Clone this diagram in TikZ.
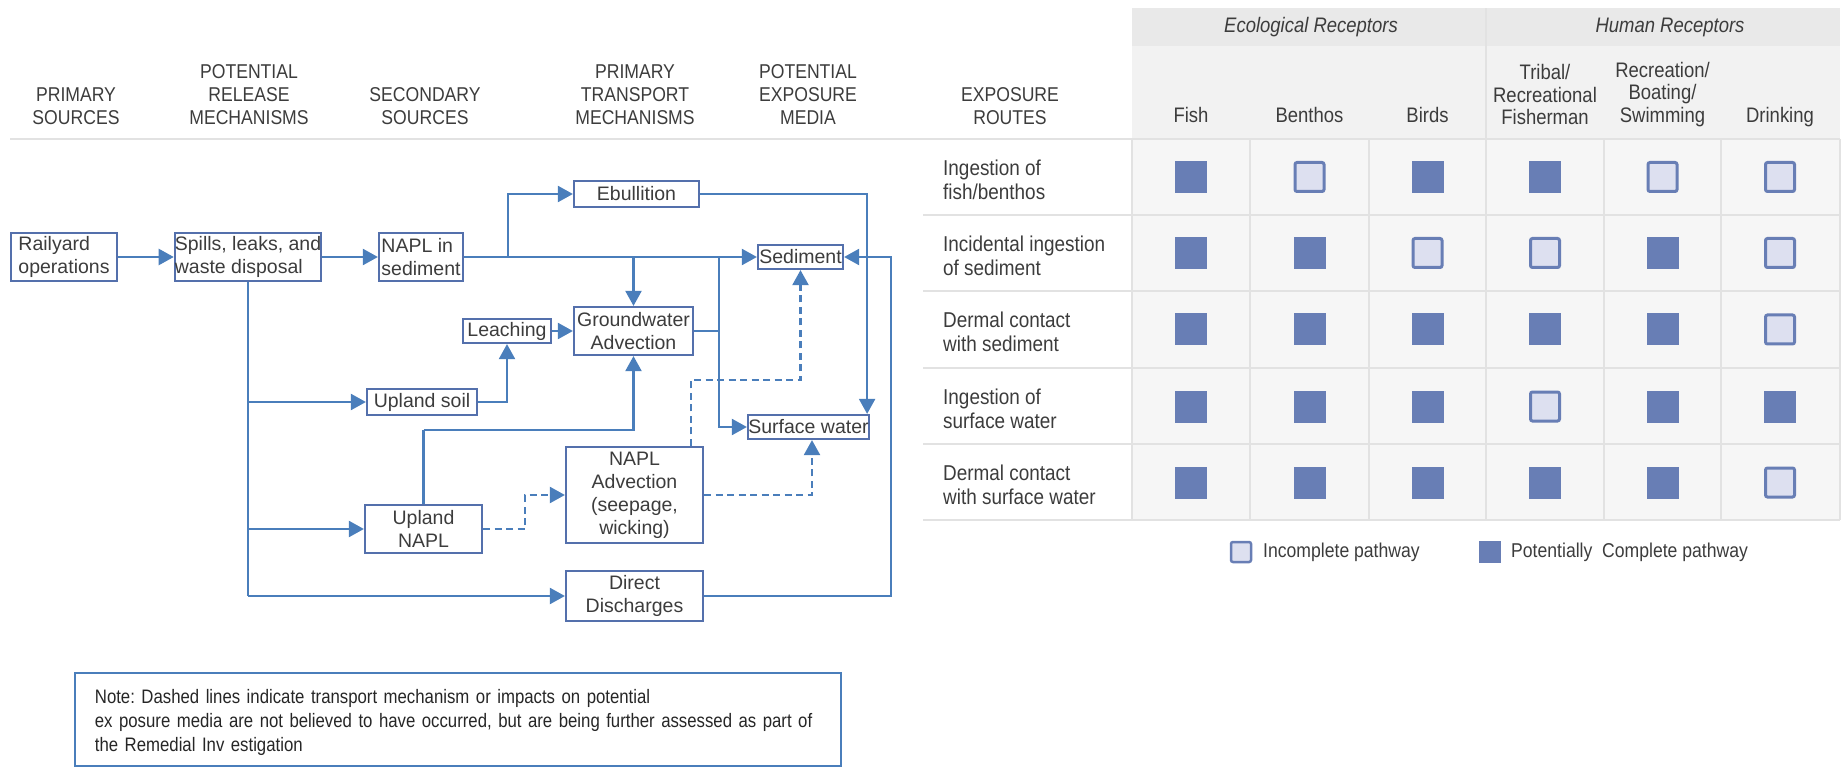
\documentclass[tikz,border=0pt]{standalone}
\usepackage{fontspec}
\setmainfont{Liberation Sans}
\newfontfamily\condf[FakeStretch=0.88]{Liberation Sans}
\newfontfamily\notef[FakeStretch=0.86]{Liberation Sans}
\usetikzlibrary{arrows.meta}
\frenchspacing
\definecolor{lineblue}{RGB}{74,126,187}
\definecolor{boxblue}{RGB}{84,112,172}
\definecolor{txt}{RGB}{60,60,60}
\definecolor{hdrA}{RGB}{233,233,233}
\definecolor{hdrB}{RGB}{242,242,242}
\definecolor{cellbg}{RGB}{246,246,246}
\definecolor{gridc}{RGB}{226,226,226}
\definecolor{fullsq}{RGB}{104,126,181}
\definecolor{emptysq}{RGB}{221,224,240}
\tikzset{
  box/.style={draw=boxblue, line width=2.2pt, inner sep=0pt, text=txt,
    font=\fontsize{19.5}{23}\selectfont},
  conn/.style={draw=lineblue, line width=2.2pt},
  arr/.style={conn, -{Triangle[length=15pt,width=16pt]}},
  darr/.style={arr, dash pattern=on 7pt off 4.5pt},
  hdr/.style={align=center, text=txt, inner sep=0pt, font=\condf\fontsize{20}{23}\selectfont},
  colhdr/.style={align=center, text=txt, inner sep=0pt, font=\condf\fontsize{21}{22.5}\selectfont},
  rowlab/.style={align=left, text=txt, inner sep=0pt, anchor=west, font=\condf\fontsize{21.5}{24}\selectfont},
  sqF/.style={fill=fullsq, minimum size=32pt, inner sep=0pt},
  sqI/.style={fill=emptysq, draw=fullsq, line width=3pt, minimum size=29pt, inner sep=0pt, rounded corners=2pt},
  gridline/.style={draw=gridc, line width=2pt},
  legtxt/.style={anchor=west, text=txt, inner sep=0pt, font=\condf\fontsize{20}{24}\selectfont},
  notebox/.style={draw=lineblue, line width=1.8pt, inner xsep=20pt, inner ysep=0pt, text=black!85,
    align=left, font=\notef\fontsize{19.5}{24}\selectfont},
}
\begin{document}
\begin{tikzpicture}[x=1pt,y=-1pt]
\useasboundingbox (0,0) rectangle (1845,767);

% ---------- table background ----------
\fill[hdrA] (1132,8) rectangle (1840,46);
\fill[hdrB] (1132,46) rectangle (1840,139);
\fill[cellbg] (1132,139) rectangle (1840,520);
\draw[gridline] (10,139) -- (1840,139);
\foreach \y in {215,291,368,444,520} \draw[gridline] (923,\y) -- (1840,\y);
\foreach \x in {1132,1250,1369,1486,1604,1721,1840} \draw[gridline] (\x,139) -- (\x,520);
\draw[gridline] (1486,8) -- (1486,139);

% ---------- column headers (flow chart) ----------
\node[hdr] (h1) at (76,106.5) {PRIMARY\\SOURCES};
\node[hdr] (h2) at (249,95) {POTENTIAL\\RELEASE\\MECHANISMS};
\node[hdr] (h3) at (425,106.5) {SECONDARY\\SOURCES};
\node[hdr] (h4) at (635,95) {PRIMARY\\TRANSPORT\\MECHANISMS};
\node[hdr] (h5) at (808,95) {POTENTIAL\\EXPOSURE\\MEDIA};
\node[hdr] (h6) at (1010,106.5) {EXPOSURE\\ROUTES};

% ---------- table headers ----------
\node[colhdr, font=\condf\itshape\fontsize{21}{24}\selectfont] (eco) at (1311,27) {Ecological Receptors};
\node[colhdr, font=\condf\itshape\fontsize{21}{24}\selectfont] (hum) at (1670,27) {Human Receptors};
\node[colhdr, anchor=base] (cFish) at (1191,123) {Fish};
\node[colhdr, anchor=base] (cBen) at (1309.5,123) {Benthos};
\node[colhdr, anchor=base] (cBird) at (1427.5,123) {Birds};
\node[colhdr] (cTri) at (1545,94.5) {Tribal/\\Recreational\\Fisherman};
\node[colhdr] (cRec) at (1662.5,94.5) {Recreation/\\Boating/\\Swimming};
\node[colhdr, anchor=base] (cDri) at (1780,123) {Drinking};

\node[rowlab] (r1) at (943,180) {Ingestion of\\fish/benthos};
\node[rowlab] (r2) at (943,256) {Incidental ingestion\\of sediment};
\node[rowlab] (r3) at (943,332) {Dermal contact\\with sediment};
\node[rowlab] (r4) at (943,409) {Ingestion of\\surface water};
\node[rowlab] (r5) at (943,485) {Dermal contact\\with surface water};

\foreach \x/\y/\k [count=\n] in {
 1191/177/F,1309.5/177/I,1427.5/177/F,1545/177/F,1662.5/177/I,1780/177/I,
 1191/253/F,1309.5/253/F,1427.5/253/I,1545/253/I,1662.5/253/F,1780/253/I,
 1191/329.5/F,1309.5/329.5/F,1427.5/329.5/F,1545/329.5/F,1662.5/329.5/F,1780/329.5/I,
 1191/406.5/F,1309.5/406.5/F,1427.5/406.5/F,1545/406.5/I,1662.5/406.5/F,1780/406.5/F,
 1191/482.5/F,1309.5/482.5/F,1427.5/482.5/F,1545/482.5/F,1662.5/482.5/F,1780/482.5/I}{
  \if\k F\node[sqF] (q\n) at (\x,\y) {};\else\node[sqI] (q\n) at (\x,\y) {};\fi
}

% legend
\node[sqI, minimum size=20pt, line width=2.5pt] (legI) at (1241,552) {};
\node[legtxt] (legIt) at (1263,552) {Incomplete pathway};
\node[sqF, minimum size=22pt] (legF) at (1490,552) {};
\node[legtxt] (legFt) at (1511,552) {Potentially\ \ Complete pathway};

% ---------- flow chart boxes ----------
\node[box, minimum width=106pt, minimum height=48pt, align=left] (rail) at (64,257) {Railyard\\operations};
\node[box, minimum width=146pt, minimum height=48pt, align=left] (spill) at (248,257) {Spills, leaks, and\\waste disposal};
\node[box, minimum width=84pt, minimum height=48pt, align=left] (napl) at (421,257) {NAPL in\\sediment};
\node[box, minimum width=125pt, minimum height=26pt] (ebul) at (636.5,194) {Ebullition};
\node[box, minimum width=85pt, minimum height=24pt] (sed) at (800.5,257) {Sediment};
\node[box, minimum width=119pt, minimum height=48pt, align=center] (gw) at (633.5,331) {Groundwater\\Advection};
\node[box, minimum width=88pt, minimum height=24pt] (leach) at (507,331) {Leaching};
\node[box, minimum width=110pt, minimum height=26pt] (usoil) at (422,402) {Upland soil};
\node[box, minimum width=121pt, minimum height=24pt] (sw) at (808.5,427) {Surface water};
\node[box, minimum width=117pt, minimum height=48pt, align=center] (unapl) at (423.5,529) {Upland\\NAPL};
\node[box, minimum width=137pt, minimum height=96pt, align=center] (nadv) at (634.5,495) {NAPL\\Advection\\(seepage,\\wicking)};
\node[box, minimum width=137pt, minimum height=50pt, align=center] (dd) at (634.5,596) {Direct\\Discharges};

\node[notebox, minimum width=766pt, minimum height=93pt, text width=726pt, anchor=north west] (note) at (74,672)
 {\rule{0pt}{21pt}Note: Dashed lines indicate transport mechanism or impacts on potential\\
  ex posure media are not believed to have occurred, but are being further assessed as part of\\
  the Remedial Inv estigation};

% ---------- connectors ----------
\coordinate (jE) at (508,257);
\coordinate (jS) at (719,257);
\coordinate (jU) at (423.5,430);

\draw[arr] (rail) -- (spill);
\draw[arr] (spill) -- (napl);
\draw[arr] (napl.east) -- (sed.west);
\draw[arr] (jE) |- (ebul.west);
\draw[arr] (gw.north |- napl.east) -- (gw.north);
\draw[arr] (ebul.east) -| ([xshift=-3pt]sw.north east);
\draw[arr] (leach) -- (gw);
\draw[arr] (usoil.east) -| (leach.south);
\draw[conn] (gw.east) -- (gw.east -| jS);
\draw[arr] (jS) |- (sw.west);
\draw[conn] (spill.south) -- (spill.south |- dd.west);
\draw[arr] (spill.south |- usoil.west) -- (usoil.west);
\draw[arr] (spill.south |- unapl.west) -- (unapl.west);
\draw[arr] (spill.south |- dd.west) -- (dd.west);
\draw[conn] (unapl.north) -- (jU);
\draw[arr] (jU) -| (gw.south);
\draw[darr] (unapl.east) -- ++(42,0) |- (nadv.west);
\draw[darr] (nadv.east) -| ([xshift=3.5pt]sw.south);
\draw[darr] ([xshift=56.5pt]nadv.north) -- ++(0,-66) -| (sed.south);
\draw[arr] (dd.east) -- ++(187,0) |- (sed.east);
\end{tikzpicture}
\end{document}
